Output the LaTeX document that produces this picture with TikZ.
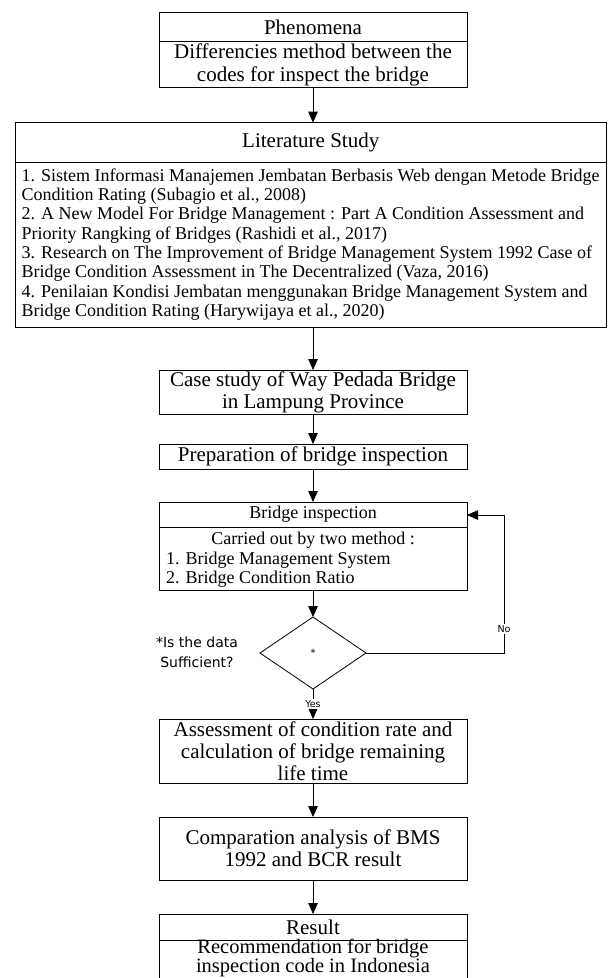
\documentclass[tikz,border=0pt]{standalone}
\usepackage{fontspec}
\setmainfont{Liberation Serif}
\newfontfamily\labelfont{DejaVu Sans}
\usetikzlibrary{shapes.geometric,arrows.meta,calc}
\begin{document}
\begin{tikzpicture}[x=1pt,y=-1pt,
  box/.style={draw,line width=0.8pt,inner sep=0pt,outer sep=0pt,rectangle},
  arr/.style={-{Triangle[length=11pt,width=9.5pt]},line width=0.8pt},
  ft/.style={font=\fontsize{18}{23}\selectfont,align=center},
  fb/.style={font=\fontsize{21}{22}\selectfont,align=center},
  fp/.style={font=\fontsize{21}{23}\selectfont,align=center},
  fl/.style={font=\fontsize{18}{19.3}\selectfont,align=left,inner sep=0pt},
  fi/.style={font=\fontsize{18}{19}\selectfont,inner sep=0pt},
  yesno/.style={font=\labelfont\fontsize{9.5}{11}\selectfont,fill=white,inner sep=1pt}]
\useasboundingbox (0,0) rectangle (612,978);
\clip (0,0) rectangle (612,978);
% Phenomena
\node[box,fp,minimum width=308pt,minimum height=29.7pt] (phenT) at (313,26.85) {Phenomena};
\node[box,fp,minimum width=308pt,minimum height=45.6pt] (phenB) at (313,64.5) {Differencies method between the\\codes for inspect the bridge};
% Literature
\node[box,fp,minimum width=590.5pt,minimum height=39.6pt] (litT) at (310.75,142.5) {Literature Study};
\node[box,minimum width=590.5pt,minimum height=165pt] (litB) at (310.75,244.8) {};
\node[fl,anchor=west] (litText) at (21.5,244.5) {1. Sistem Informasi Manajemen Jembatan Berbasis Web dengan Metode Bridge\\
Condition Rating (Subagio et al., 2008)\\
2. A New Model For Bridge Management : Part A Condition Assessment and\\
Priority Rangking of Bridges (Rashidi et al., 2017)\\
3. Research on The Improvement of Bridge Management System 1992 Case of\\
Bridge Condition Assessment in The Decentralized (Vaza, 2016)\\
4. Penilaian Kondisi Jembatan menggunakan Bridge Management System and\\
Bridge Condition Rating (Harywijaya et al., 2020)};
% Case study
\node[box,fb,minimum width=308pt,minimum height=44pt] (case) at (313,392) {Case study of Way Pedada Bridge\\in Lampung Province};
\node[box,fb,minimum width=308pt,minimum height=25pt] (prep) at (313,456.5) {Preparation of bridge inspection};
% Inspection
\node[box,ft,minimum width=308pt,minimum height=25pt] (inspT) at (313,514.5) {Bridge inspection};
\node[box,minimum width=308pt,minimum height=63pt] (inspB) at (313,558.5) {};
\node[fi] (insp1) at (313,540) {Carried out by two method :};
\node[fi,anchor=west] (insp2) at (166,560) {1. Bridge Management System};
\node[fi,anchor=west] (insp3) at (166,579) {2. Bridge Condition Ratio};
% Decision
\node[draw,line width=0.8pt,diamond,minimum width=106pt,minimum height=72pt,inner sep=0pt,outer sep=0pt,font=\labelfont\fontsize{10}{12}\selectfont] (dia) at (313,653) {*};
\node[font=\labelfont\fontsize{14}{20}\selectfont,align=center] (q) at (197,652) {*Is the data\\Sufficient?};
% Assessment
\node[box,fb,minimum width=308pt,minimum height=64pt] (assess) at (313,751) {Assessment of condition rate and\\calculation of bridge remaining\\life time};
\node[box,fb,minimum width=308pt,minimum height=63pt] (comp) at (313,848.5) {Comparation analysis of BMS\\1992 and BCR result};
% Result
\node[box,fb,minimum width=308pt,minimum height=26pt] (resT) at (313,927) {Result};
\node[box,minimum width=308pt,minimum height=60pt] (resB) at (313,970) {};
\node[font=\fontsize{20.5}{19.5}\selectfont,align=center,inner sep=0pt] (resText) at (313,958) {Recommendation for bridge\\inspection code in Indonesia};
% Connectors
\coordinate (c1) at (504,653);
\coordinate (c2) at (504,515);
\draw[arr] (phenB.south) -- (phenB.south |- litT.north);
\draw[arr] (litB.south -| case.north) -- (case.north);
\draw[arr] (case) -- (prep);
\draw[arr] (prep) -- (inspT);
\draw[arr] (inspB) -- (dia);
\draw[arr] (dia) -- node[yesno] {Yes} (assess);
\draw[arr] (dia.east) -- (c1) -- node[yesno,pos=0.174] {No} (c2) -- (c2 -| inspT.east);
\draw[arr] (assess) -- (comp);
\draw[arr] (comp) -- (resT);
\end{tikzpicture}
\end{document}
